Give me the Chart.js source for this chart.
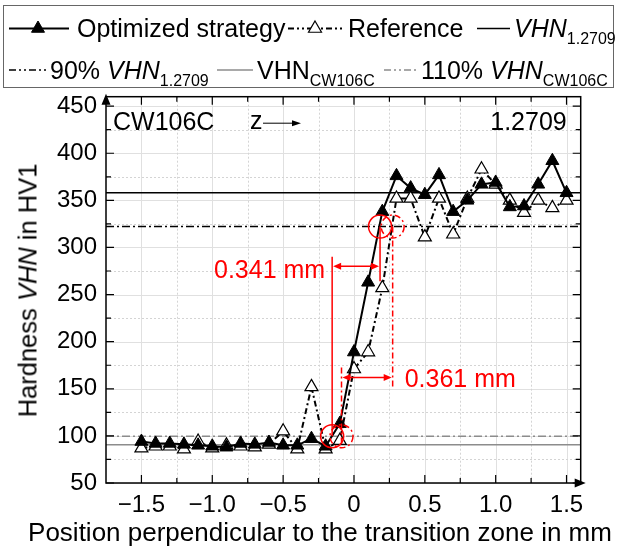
<!DOCTYPE html>
<html><head><meta charset="utf-8">
<script src="https://cdn.jsdelivr.net/npm/chart.js@4.4.0/dist/chart.umd.min.js"></script>
<style>
html,body{margin:0;padding:0;background:#fff;}
#wrap{position:relative;width:617px;height:549px;font-family:'Liberation Sans',Arial,sans-serif;color:#000;overflow:hidden;}
#c{position:absolute;left:0;top:0;}
.t{position:absolute;white-space:nowrap;font-size:25px;line-height:25px;}
.s{font-size:16px;position:relative;top:7px;}
#ytitle{position:absolute;left:-122px;top:277.5px;width:300px;text-align:center;font-size:25.5px;line-height:25px;transform:rotate(-90deg);white-space:nowrap;}
#xtitle{position:absolute;left:20px;top:519px;width:600px;text-align:center;font-size:26px;line-height:26px;white-space:nowrap;}
</style></head><body>
<div id="wrap">
<canvas id="c" width="617" height="549"></canvas>
<svg style="position:absolute;left:0;top:0" width="617" height="95">
  <rect x="3.5" y="5.5" width="610" height="82" fill="none" stroke="#666" stroke-width="1"/>
  <line x1="9" y1="28.5" x2="69" y2="28.5" stroke="#000" stroke-width="2"/>
  <polygon points="38,21 44.5,32.25 31.5,32.25" fill="#000" stroke="#000"/>
  <line x1="288" y1="28.5" x2="342" y2="28.5" stroke="#000" stroke-width="2" stroke-dasharray="6 3 2 3 2 3"/>
  <polygon points="315,21 321.5,32.25 308.5,32.25" fill="#fff" stroke="#000" stroke-width="1.2"/>
  <line x1="477" y1="28.5" x2="510" y2="28.5" stroke="#000" stroke-width="1.5"/>
  <line x1="9" y1="70" x2="47" y2="70" stroke="#000" stroke-width="1.5" stroke-dasharray="7 3 2 3 2 3"/>
  <line x1="217" y1="70" x2="253" y2="70" stroke="#8c8c8c" stroke-width="1.5"/>
  <line x1="384" y1="70" x2="417" y2="70" stroke="#8c8c8c" stroke-width="1.5" stroke-dasharray="7 3 2 3 2 3"/>
</svg>
<div class="t" style="left:77px;top:16.3px">Optimized strategy</div>
<div class="t" style="left:348px;top:16.3px">Reference</div>
<div class="t" style="left:514px;top:16.3px"><i>VHN</i><span class="s">1.2709</span></div>
<div class="t" style="left:50px;top:57.8px">90% <i>VHN</i><span class="s">1.2709</span></div>
<div class="t" style="left:257px;top:57.8px">VHN<span class="s">CW106C</span></div>
<div class="t" style="left:421px;top:57.8px">110% <i>VHN</i><span class="s">CW106C</span></div>
<div id="ytitle">Hardness <i>VHN</i> in HV1</div>
<div id="xtitle">Position perpendicular to the transition zone in mm</div>
</div>
<script>
// ---- data ----
const positions = [-1.5,-1.4,-1.3,-1.2,-1.1,-1.0,-0.9,-0.8,-0.7,-0.6,-0.5,-0.4,-0.3,-0.2,-0.1,0,0.1,0.2,0.3,0.4,0.5,0.6,0.7,0.8,0.9,1.0,1.1,1.2,1.3,1.4,1.5];
const optimized = [94,92,92,91,90,89,88,92,91,93,90,90,97,89,113,189,263,338,376,363,356,377,338,350,367,369,343,344,367,392,358];
const reference = [87,89,89,86,94,87,90,89,88,91,105,86,152,86,95,171,189,257,352,352,311,352,314,352,383,367,350,337,350,342,350];
const vhn12709 = 358;
const vhn12709_90 = 322.2;
const vhnCW106C = 90.5;
const vhnCW106C_110 = 99.6;
const xRange = [-1.75, 1.6];
const yRange = [50, 460];
const xTickValues = [-1.5,-1.0,-0.5,0,0.5,1.0,1.5];
const xMinorValues = [-1.25,-0.75,-0.25,0.25,0.75,1.25];
const yTickValues = [50,100,150,200,250,300,350,400,450];
const yMinorValues = [75,125,175,225,275,325,375,425];
// annotations (data units)
const solidMarks = [[-0.154, 99.6], [0.184, 322.2]];
const dashMarks = [[-0.088, 99.6], [0.273, 322.2]];
const solidLineEnds = [290, 264];
const dashLineEnds = [[92, 175], [322.2, 151]];
const arrowLevels = [280, 162];
const distanceLabels = ['0.341 mm', '0.361 mm'];

const FONT = "'Liberation Sans', Arial, sans-serif";
Chart.defaults.font.family = FONT;
Chart.defaults.color = '#000';

const pts = vals => vals.map((v,i)=>({x:positions[i], y:v}));
const hline = v => [{x:xRange[0], y:v},{x:xRange[1], y:v}];

const RED = '#ff0000';

function arrowHead(ctx, x, y, dir){
  ctx.beginPath();
  ctx.moveTo(x, y);
  ctx.lineTo(x - dir*8, y - 3.5);
  ctx.lineTo(x - dir*8, y + 3.5);
  ctx.closePath();
  ctx.fill();
}

const gridPlugin = {
  id:'gridFrame',
  beforeDatasetsDraw(chart){
    const {ctx, chartArea:a, scales:{x,y}} = chart;
    ctx.save();
    ctx.lineWidth = 1;
    ctx.strokeStyle = '#e0e0e0';
    xTickValues.forEach(v=>{const p=Math.round(x.getPixelForValue(v))+0.5;ctx.beginPath();ctx.moveTo(p,a.top);ctx.lineTo(p,a.bottom);ctx.stroke();});
    yTickValues.forEach(v=>{const p=Math.round(y.getPixelForValue(v))+0.5;ctx.beginPath();ctx.moveTo(a.left,p);ctx.lineTo(a.right,p);ctx.stroke();});
    ctx.setLineDash([2,2]);
    ctx.strokeStyle = '#d4d4d4';
    xMinorValues.forEach(v=>{const p=Math.round(x.getPixelForValue(v))+0.5;ctx.beginPath();ctx.moveTo(p,a.top);ctx.lineTo(p,a.bottom);ctx.stroke();});
    yMinorValues.forEach(v=>{const p=Math.round(y.getPixelForValue(v))+0.5;ctx.beginPath();ctx.moveTo(a.left,p);ctx.lineTo(a.right,p);ctx.stroke();});
    ctx.restore();
  },
  afterDatasetsDraw(chart){
    const {ctx, chartArea:a, scales:{x,y}} = chart;
    ctx.save();
    // frame
    ctx.strokeStyle = '#000'; ctx.lineWidth = 1.5;
    ctx.strokeRect(a.left, a.top, a.right-a.left, a.bottom-a.top);
    ctx.lineWidth = 1.2;
    const tick = (vals, len, isX) => vals.forEach(v=>{
      if(isX){const p=x.getPixelForValue(v);
        ctx.beginPath();ctx.moveTo(p,a.bottom);ctx.lineTo(p,a.bottom-len);ctx.moveTo(p,a.top);ctx.lineTo(p,a.top+len);ctx.stroke();}
      else{const p=y.getPixelForValue(v);
        ctx.beginPath();ctx.moveTo(a.left,p);ctx.lineTo(a.left+len,p);ctx.moveTo(a.right,p);ctx.lineTo(a.right-len,p);ctx.stroke();}
    });
    tick(xTickValues,8,true); tick(xMinorValues,5,true);
    tick(yTickValues,8,false); tick(yMinorValues,5,false);
    // axis arrows
    ctx.fillStyle='#000';
    ctx.beginPath();ctx.moveTo(a.left,a.top-3);ctx.lineTo(a.left-4.5,a.top+8);ctx.lineTo(a.left+4.5,a.top+8);ctx.closePath();ctx.fill();
    ctx.beginPath();ctx.moveTo(a.right+5,a.bottom);ctx.lineTo(a.right-6,a.bottom-4.5);ctx.lineTo(a.right-6,a.bottom+4.5);ctx.closePath();ctx.fill();

    // red annotations
    ctx.strokeStyle = RED; ctx.fillStyle = RED; ctx.lineWidth = 1.5;
    solidMarks.forEach((m,i)=>{
      const px=x.getPixelForValue(m[0]);
      ctx.setLineDash([]);
      ctx.beginPath();ctx.arc(px,y.getPixelForValue(m[1]),11.5,0,Math.PI*2);ctx.stroke();
      ctx.beginPath();ctx.moveTo(px,y.getPixelForValue(m[1]));ctx.lineTo(px,y.getPixelForValue(solidLineEnds[i]));ctx.stroke();
    });
    dashMarks.forEach((m,i)=>{
      const px=x.getPixelForValue(m[0]);
      ctx.setLineDash([6,3,2,3]);
      ctx.beginPath();ctx.arc(px,y.getPixelForValue(m[1]),11.5,0,Math.PI*2);ctx.stroke();
      ctx.beginPath();ctx.moveTo(px,y.getPixelForValue(dashLineEnds[i][0]));ctx.lineTo(px,y.getPixelForValue(dashLineEnds[i][1]));ctx.stroke();
    });
    ctx.setLineDash([]);
    const pairs = [[solidMarks[0][0],solidMarks[1][0]],[dashMarks[0][0],dashMarks[1][0]]];
    pairs.forEach((p,i)=>{
      const x1=x.getPixelForValue(p[0])+1, x2=x.getPixelForValue(p[1])-1, py=y.getPixelForValue(arrowLevels[i]);
      ctx.beginPath();ctx.moveTo(x1+6,py);ctx.lineTo(x2-6,py);ctx.stroke();
      arrowHead(ctx,x1,py,-1); arrowHead(ctx,x2,py,1);
    });
    ctx.font = '25px ' + FONT;
    ctx.textBaseline = 'alphabetic';
    ctx.textAlign = 'right';
    ctx.fillText(distanceLabels[0], x.getPixelForValue(pairs[0][0]) - 7, y.getPixelForValue(arrowLevels[0]) + 12);
    ctx.textAlign = 'left';
    ctx.fillText(distanceLabels[1], x.getPixelForValue(pairs[1][1]) + 12, y.getPixelForValue(arrowLevels[1]) + 10);

    // corner labels
    ctx.fillStyle = '#000';
    ctx.textAlign = 'left';
    ctx.fillText('CW106C', a.left + 7, a.top + 33);
    ctx.fillText('z', a.left + 144, a.top + 32);
    ctx.textAlign = 'right';
    ctx.fillText('1.2709', a.right - 14, a.top + 33.5);
    ctx.strokeStyle = '#000'; ctx.lineWidth = 1;
    ctx.beginPath();ctx.moveTo(a.left+157,a.top+26.5);ctx.lineTo(a.left+188,a.top+26.5);ctx.stroke();
    ctx.beginPath();ctx.moveTo(a.left+195,a.top+26.5);ctx.lineTo(a.left+186,a.top+23.5);ctx.lineTo(a.left+186,a.top+29.5);ctx.closePath();ctx.fill();
    ctx.restore();
  }
};

new Chart(document.getElementById('c'), {
  type:'line',
  data:{datasets:[
    {label:'Optimized strategy', data:pts(optimized), borderColor:'#000', backgroundColor:'#000', borderWidth:2,
     pointStyle:'triangle', pointRadius:7.5, pointBackgroundColor:'#000', pointBorderColor:'#000', pointBorderWidth:1, tension:0, order:0},
    {label:'Reference', data:pts(reference), borderColor:'#000', borderWidth:2, borderDash:[6,3,2,3],
     pointStyle:'triangle', pointRadius:7.5, pointBackgroundColor:'#fff', pointBorderColor:'#000', pointBorderWidth:1.2, tension:0, order:1},
    {label:'VHN 1.2709', data:hline(vhn12709), borderColor:'#000', borderWidth:1.5, pointRadius:0, order:2},
    {label:'90% VHN 1.2709', data:hline(vhn12709_90), borderColor:'#000', borderWidth:1.5, borderDash:[8,3,2,3], pointRadius:0, order:3},
    {label:'VHN CW106C', data:hline(vhnCW106C), borderColor:'#8c8c8c', borderWidth:1.5, pointRadius:0, order:4},
    {label:'110% VHN CW106C', data:hline(vhnCW106C_110), borderColor:'#8c8c8c', borderWidth:1.5, borderDash:[8,3,2,3], pointRadius:0, order:5}
  ]},
  options:{
    responsive:false, animation:false, devicePixelRatio:1,
    layout:{padding:{left:0,right:36.3,top:96.7,bottom:0}},
    plugins:{legend:{display:false}, tooltip:{enabled:false}},
    scales:{
      x:{type:'linear', min:xRange[0], max:xRange[1],
         afterBuildTicks:s=>{s.ticks = xTickValues.map(v=>({value:v}));},
         afterFit:s=>{s.height = 66;},
         grid:{display:false, drawTicks:false}, border:{display:false},
         ticks:{font:{size:24}, padding:8, maxRotation:0, autoSkip:false,
           callback:v=> v===0 ? '0' : (v<0 ? '\u2212' + Math.abs(v).toFixed(1) : v.toFixed(1))}},
      y:{type:'linear', min:yRange[0], max:yRange[1],
         afterBuildTicks:s=>{s.ticks = yTickValues.map(v=>({value:v}));},
         afterFit:s=>{s.width = 106;},
         grid:{display:false, drawTicks:false}, border:{display:false},
         ticks:{font:{size:24}, padding:9, autoSkip:false}}
    }
  },
  plugins:[gridPlugin]
});
</script>
</body></html>
